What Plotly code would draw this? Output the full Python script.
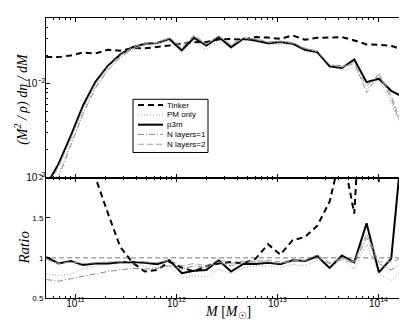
import plotly.graph_objects as go
from plotly.subplots import make_subplots

# mass bins, log10(M / Msun)
log_m = [10.71 + 0.122 * k for k in range(31)]
mass = [10 ** v for v in log_m]

# (M^2/rho) dn/dM
tinker = [1.92e-2, 1.92e-2, 2.0e-2, 2.15e-2, 2.1e-2, 2.3e-2, 2.25e-2, 2.4e-2, 2.38e-2, 2.45e-2,
          2.55e-2, 2.67e-2, 2.77e-2, 2.78e-2, 2.96e-2, 3.0e-2, 2.94e-2, 3.14e-2, 3.1e-2, 3.0e-2,
          3.27e-2, 2.94e-2, 3.09e-2, 3.1e-2, 3.14e-2, 2.89e-2, 2.62e-2, 2.6e-2, 2.54e-2, 2.27e-2, 2.03e-2]
pm_only = [6.5e-4, 1.1e-3, 2.3e-3, 5.0e-3, 9.3e-3, 1.42e-2, 1.9e-2, 2.3e-2, 2.55e-2, 2.6e-2,
           2.85e-2, 2.1e-2, 2.85e-2, 2.3e-2, 2.9e-2, 2.35e-2, 2.95e-2, 2.8e-2, 2.65e-2, 2.6e-2,
           2.6e-2, 2.2e-2, 2.1e-2, 1.55e-2, 1.4e-2, 1.5e-2, 8.8e-3, 1.1e-2, 6.2e-3, 3.2e-3, 2.2e-3]
p3m = [8.2e-4, 1.4e-3, 2.8e-3, 5.9e-3, 1.05e-2, 1.55e-2, 2.04e-2, 2.45e-2, 2.67e-2, 2.71e-2,
       3.0e-2, 2.26e-2, 3.08e-2, 2.55e-2, 3.14e-2, 2.45e-2, 3.01e-2, 2.89e-2, 2.7e-2, 2.78e-2,
       2.67e-2, 2.3e-2, 2.17e-2, 1.53e-2, 1.47e-2, 1.81e-2, 1.04e-2, 1.13e-2, 8.4e-3, 7.2e-3, 1.5e-3]
nlay1 = [6.0e-4, 1.0e-3, 2.2e-3, 4.8e-3, 9.0e-3, 1.4e-2, 1.9e-2, 2.35e-2, 2.6e-2, 2.7e-2,
         3.05e-2, 2.4e-2, 3.2e-2, 2.6e-2, 3.2e-2, 2.55e-2, 3.05e-2, 2.95e-2, 2.75e-2, 2.8e-2,
         2.7e-2, 2.35e-2, 2.25e-2, 1.6e-2, 1.55e-2, 1.6e-2, 9.5e-3, 1.25e-2, 7.0e-3, 3.0e-3, 2.6e-3]
nlay2 = [7.5e-4, 1.3e-3, 2.6e-3, 5.5e-3, 1.0e-2, 1.5e-2, 2.0e-2, 2.45e-2, 2.7e-2, 2.75e-2,
         3.1e-2, 2.5e-2, 3.3e-2, 2.65e-2, 3.25e-2, 2.6e-2, 3.1e-2, 3.0e-2, 2.8e-2, 2.85e-2,
         2.75e-2, 2.4e-2, 2.2e-2, 1.6e-2, 1.5e-2, 1.7e-2, 8.0e-3, 1.3e-2, 7.5e-3, 3.3e-3, 3.0e-3]

# ratios
r_tinker = [8.0, 5.0, 3.5, 2.5, 2.0, 1.56, 1.14, 0.94, 0.83, 0.85,
            0.95, 0.88, 0.83, 0.9, 0.93, 0.95, 0.93, 0.99, 1.17, 1.04,
            1.22, 1.26, 1.4, 1.7, 2.35, 1.55, 4.2, 1.95, 3.0, 4.0, 6.0]
r_pm = [0.80, 0.78, 0.80, 0.86, 0.9, 0.92, 0.93, 0.93, 0.9, 0.88,
        0.9, 0.75, 0.78, 0.76, 0.86, 0.8, 0.88, 0.9, 0.9, 0.88,
        0.92, 0.9, 0.97, 0.88, 0.98, 0.86, 1.18, 0.8, 0.72, 0.85, 0.75]
r_p3m = [1.01, 0.93, 0.96, 0.91, 0.93, 0.93, 0.945, 0.95, 0.94, 0.92,
         0.97, 0.81, 0.84, 0.85, 0.97, 0.83, 0.925, 0.925, 0.94, 0.92,
         0.97, 0.96, 1.02, 0.875, 1.03, 0.945, 1.43, 0.82, 0.99, 2.6, 0.45]
r_nlay1 = [0.73, 0.71, 0.74, 0.77, 0.8, 0.83, 0.85, 0.87, 0.86, 0.87,
           0.9, 0.86, 0.9, 0.88, 0.95, 0.9, 0.94, 0.95, 0.95, 0.93,
           0.96, 0.95, 1.0, 0.93, 0.98, 0.93, 1.25, 0.93, 0.85, 0.95, 1.0]
r_nlay2 = [0.98, 0.93, 0.95, 0.93, 0.94, 0.95, 0.95, 0.96, 0.95, 0.94,
           0.97, 0.9, 0.93, 0.9, 0.98, 0.93, 0.96, 0.96, 0.97, 0.95,
           0.97, 0.97, 1.04, 0.94, 1.0, 0.95, 1.3, 0.95, 0.95, 1.0, 1.05]

labels = ["Tinker", "PM only", "p3m", "N layers=1", "N layers=2"]
styles = {
    "Tinker": dict(color="black", width=2, dash="6px,4px"),
    "PM only": dict(color="#a0a0a0", width=1, dash="1px,2px"),
    "p3m": dict(color="black", width=2, dash="solid"),
    "N layers=1": dict(color="#8c8c8c", width=1, dash="6px,2px,1px,2px"),
    "N layers=2": dict(color="#a0a0a0", width=1, dash="6px,3px"),
}
top = dict(zip(labels, [tinker, pm_only, p3m, nlay1, nlay2]))
bot = dict(zip(labels, [r_tinker, r_pm, r_p3m, r_nlay1, r_nlay2]))

fig = make_subplots(rows=2, cols=1, shared_xaxes=True, vertical_spacing=0,
                    row_heights=[0.57, 0.43])

for name in labels:
    fig.add_trace(go.Scatter(x=mass, y=top[name], mode="lines", name=name,
                             line=styles[name]), row=1, col=1)
for name in labels:
    fig.add_trace(go.Scatter(x=mass, y=bot[name], mode="lines", name=name,
                             line=styles[name]), row=2, col=1)

# unity reference line
fig.add_trace(go.Scatter(x=[10 ** 10.6, 10 ** 14.5], y=[1, 1], mode="lines",
                         line=dict(color="#555555", width=0.8, dash="5px,3px")), row=2, col=1)

axis_common = dict(showline=True, linecolor="black", linewidth=1, mirror="ticks",
                   ticks="inside", ticklen=4, tickcolor="black", showgrid=False,
                   zeroline=False, tickfont=dict(family="Liberation Sans", size=8, color="black"))

fig.update_xaxes(type="log", range=[10.708, 14.302], dtick=1, exponentformat="power",
                 ticklabelstandoff=-4,
                 minor=dict(ticks="inside", ticklen=2, tickcolor="black"), **axis_common)
fig.update_xaxes(showticklabels=False, row=1, col=1)
fig.update_yaxes(type="log", range=[-3, -1.30], dtick=1, exponentformat="power",
                 ticklabelstandoff=-2,
                 minor=dict(ticks="inside", ticklen=2, tickcolor="black"),
                 row=1, col=1, **axis_common)
fig.update_yaxes(range=[0.5, 2], tickvals=[0.5, 1, 1.5, 2], ticktext=["0.5", "1", "1.5", "2"],
                 row=2, col=1, **axis_common)

# hand-built legend box (matplotlib-style compact rows)
shapes = [dict(type="rect", xref="paper", yref="paper", x0=0.2397, x1=0.4463,
               y0=0.5197, y1=0.7097, line=dict(color="black", width=1), fillcolor="white",
               layer="above")]
annotations = []
row_px = [96.7, 106.5, 116.3, 126.0, 135.8]
for name, py in zip(labels, row_px):
    yp = 1 - (py - 10) / 279
    st = styles[name]
    shapes.append(dict(type="line", xref="paper", yref="paper", x0=0.2534, x1=0.3223,
                       y0=yp, y1=yp, layer="above",
                       line=dict(color=st["color"], width=st["width"], dash=st["dash"])))
    annotations.append(dict(text=name, xref="paper", yref="paper", x=0.328, y=yp,
                            xanchor="left", yanchor="middle", showarrow=False,
                            font=dict(family="Liberation Sans", size=8, color="black")))

serif = dict(family="Liberation Serif", size=14, color="black")
annotations += [
    dict(text="<i>(M<sup>2</sup> / ρ) dn / dM</i>", xref="paper", yref="paper",
         x=-0.0675, y=0.713, xanchor="center", yanchor="middle", textangle=-90,
         showarrow=False, font=serif),
    dict(text="<i>Ratio</i>", xref="paper", yref="paper",
         x=-0.0606, y=0.18, xanchor="center", yanchor="middle", textangle=-90,
         showarrow=False, font=dict(family="Liberation Serif", size=15, color="black")),
    dict(text="<i>M</i> [<i>M</i><sub>☉</sub>]", xref="paper", yref="paper",
         x=0.5, y=-0.052, xanchor="center", yanchor="middle",
         showarrow=False, font=serif),
]

fig.update_layout(
    width=407, height=321,
    margin=dict(l=38, r=6, t=10, b=31),
    paper_bgcolor="white", plot_bgcolor="white",
    showlegend=False,
    shapes=shapes,
    annotations=annotations,
)

fig.write_html("out.html")
